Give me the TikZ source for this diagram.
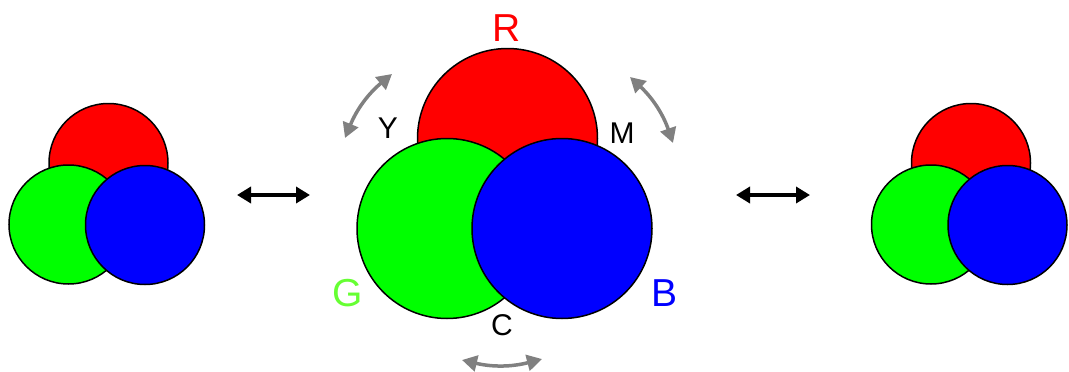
\documentclass[tikz,border=0pt]{standalone}
\usepackage{fontspec}
\setmainfont{Liberation Sans}
\usetikzlibrary{arrows.meta}
\definecolor{labelgreen}{RGB}{102,255,51}
\begin{document}
\begin{tikzpicture}[
        x=1pt, y=-1pt,
        disc/.style={draw, circle, line width=1.5pt, inner sep=0pt, minimum size=119pt},
        bigdisc/.style={disc, minimum size=180pt},
        swaparrow/.style={draw=black, line width=4pt, {Triangle[length=14pt,width=16pt]}-{Triangle[length=14pt,width=16pt]}},
        turnarrow/.style={draw=gray, line width=3.5pt, {Triangle[length=15pt,width=16pt]}-{Triangle[length=15pt,width=16pt]}, bend left=14},
        primary/.style={font=\fontsize{39}{39}\selectfont},
        mixed/.style={font=\fontsize{30}{30}\selectfont},
    ]
    \useasboundingbox (0,0) rectangle (1069,372);
    % left triad
    \node[disc, fill=red](lr) at (108.5,163){};
    \node[disc, fill=green](lg) at (68.5,224.5){};
    \node[disc, fill=blue](lb) at (145,225){};
    % middle triad
    \node[bigdisc, fill=red](mr) at (507.5,138.5){};
    \node[bigdisc, fill=green](mg) at (447,228.5){};
    \node[bigdisc, fill=blue](mb) at (562,228.5){};
    % right triad
    \node[disc, fill=red](rr) at (971,163){};
    \node[disc, fill=green](rg) at (931,224.5){};
    \node[disc, fill=blue](rb) at (1007.5,225){};
    % labels
    \node[primary, text=red](R) at (507,28){R};
    \node[primary, text=labelgreen](G) at (348,293){G};
    \node[primary, text=blue](B) at (665,293){B};
    \node[mixed](Y) at (388,128){Y};
    \node[mixed](M) at (622,133){M};
    \node[mixed](C) at (502,325){C};
    % arrows
    \coordinate (l1) at (237,195);
    \coordinate (l2) at (310,195);
    \coordinate (r1) at (736,195);
    \coordinate (r2) at (810,195);
    \coordinate (y1) at (345,138);
    \coordinate (y2) at (392,74);
    \coordinate (m1) at (630,77);
    \coordinate (m2) at (673,143);
    \coordinate (c1) at (542,359);
    \coordinate (c2) at (462,360);
    \draw[swaparrow] (l1) -- (l2);
    \draw[swaparrow] (r1) -- (r2);
    \draw[turnarrow] (y1) to (y2);
    \draw[turnarrow] (m1) to (m2);
    \draw[turnarrow] (c1) to (c2);
\end{tikzpicture}
\end{document}
